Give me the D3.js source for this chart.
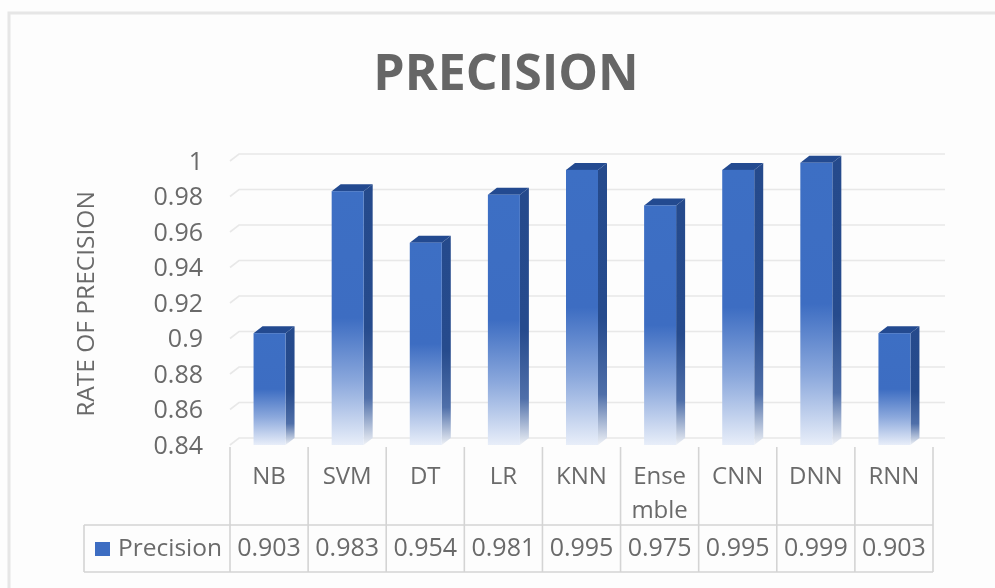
<!DOCTYPE html>
<html><head><meta charset="utf-8">
<script src="https://cdn.jsdelivr.net/npm/d3@7"></script>
<style>html,body{margin:0;padding:0;background:#fff}svg{display:block;filter:blur(0.7px)}text{font-family:"Open Sans",sans-serif;fill:#6a6a6a}</style>
</head><body><svg id="c" width="995" height="588"></svg>
<script>
const categories=["NB","SVM","DT","LR","KNN","Ensemble","CNN","DNN","RNN"];
const categoryLines=[["NB"],["SVM"],["DT"],["LR"],["KNN"],["Ense","mble"],["CNN"],["DNN"],["RNN"]];
const values=[0.903,0.983,0.954,0.981,0.995,0.975,0.995,0.999,0.903];
const valueLabels=["0.903","0.983","0.954","0.981","0.995","0.975","0.995","0.999","0.903"];
const yTicks=[0.84,0.86,0.88,0.9,0.92,0.94,0.96,0.98,1];
const seriesName="Precision";

const svg=d3.select("#c");
const x=d3.scaleBand().domain(categories).range([230,933]);
const y=d3.scaleLinear().domain([0.84,1]).range([445,161]);
const barW=32,dx=9,dy=7,rowTop=447,rowMid=525,rowBot=572,tableL=84;

svg.append("rect").attr("x",-5).attr("y",-5).attr("width",1005).attr("height",598).attr("fill","#fdfdfd");
svg.append("path").attr("d","M9,588 V13 H995").attr("fill","none").attr("stroke","#e6e6e6").attr("stroke-width",3);

const defs=svg.append("defs");
function grad(id,stops){
  const g=defs.append("linearGradient").attr("id",id).attr("x1",0).attr("y1",0).attr("x2",0).attr("y2",1);
  stops.forEach(s=>g.append("stop").attr("offset",s[0]).attr("stop-color",s[1]));
}
grad("front",[["0%","#3d6fc4"],["50%","#3d6dc2"],["75%","#8ba8dc"],["100%","#e8eef9"]]);
grad("side",[["0%","#254a8c"],["55%","#264b8d"],["82%","#4f6fa9"],["100%","#eef1f6"]]);

// gridlines on the back wall
const grid=svg.append("g");
grid.selectAll("path").data(yTicks).join("path")
  .attr("d",t=>`M${230},${y(t)} L${230+dx},${y(t)-dy} H945`)
  .attr("fill","none").attr("stroke","#e8e8e8").attr("stroke-width",1.6);

// bars
const bars=svg.append("g").selectAll("g").data(categories).join("g")
  .attr("transform",d=>`translate(${x(d)+x.bandwidth()/2-barW/2+0.5},0)`);
bars.append("path").attr("fill","url(#side)")
  .attr("d",(d,i)=>`M${barW},${y(values[i])} l${dx},${-dy} V${y(0.84)-dy} l${-dx},${dy} Z`);
bars.append("path").attr("fill","#234a90")
  .attr("d",(d,i)=>`M0,${y(values[i])} l${dx},${-dy} h${barW} l${-dx},${dy} Z`);
bars.append("rect").attr("fill","url(#front)").attr("x",0).attr("width",barW)
  .attr("y",(d,i)=>y(values[i])).attr("height",(d,i)=>y(0.84)-y(values[i]));

// value axis
const axis=svg.append("g").attr("transform","translate(203,0)")
  .call(d3.axisLeft(y).tickValues(yTicks).tickSize(0).tickPadding(0).tickFormat(d=>String(d)));
axis.select(".domain").remove();
axis.selectAll("text").attr("font-size",25).style("font-family",'"Open Sans",sans-serif');

// title
svg.append("text").attr("x",506).attr("y",90).attr("text-anchor","middle").attr("font-size",50).attr("font-weight",700).style("fill","#666").text("PRECISION");
svg.append("text").attr("transform","translate(94,304) rotate(-90)").attr("text-anchor","middle").attr("font-size",24.5).text("RATE OF PRECISION");

// data table
const t=svg.append("g").attr("fill","none").attr("stroke","#d4d4d4").attr("stroke-width",1.6);
t.append("path").attr("d",`M${tableL},${rowMid} H933 M${tableL},${rowBot} H933 M${tableL},${rowMid} V${rowBot}`);
t.selectAll("line").data(d3.range(10)).join("line")
  .attr("x1",i=>230+i*x.step()).attr("x2",i=>230+i*x.step()).attr("y1",rowTop).attr("y2",rowBot);

const labels=svg.append("g").selectAll("text").data(categories).join("text")
  .attr("text-anchor","middle").attr("font-size",24)
  .attr("x",d=>x(d)+x.bandwidth()/2);
labels.selectAll("tspan").data((d,i)=>categoryLines[i].map((s,j)=>({s,j}))).join("tspan")
  .attr("x",function(){return this.parentNode.getAttribute("x")})
  .attr("y",d=>484+d.j*34).text(d=>d.s);
svg.append("g").selectAll("text").data(categories).join("text")
  .attr("text-anchor","middle").attr("font-size",25)
  .attr("x",d=>x(d)+x.bandwidth()/2).attr("y",556).text((d,i)=>valueLabels[i]);
svg.append("rect").attr("x",95).attr("y",542).attr("width",15).attr("height",14).attr("fill","#3d6dc2");
svg.append("text").attr("x",118).attr("y",556).attr("font-size",24.5).text(seriesName);
</script></body></html>
